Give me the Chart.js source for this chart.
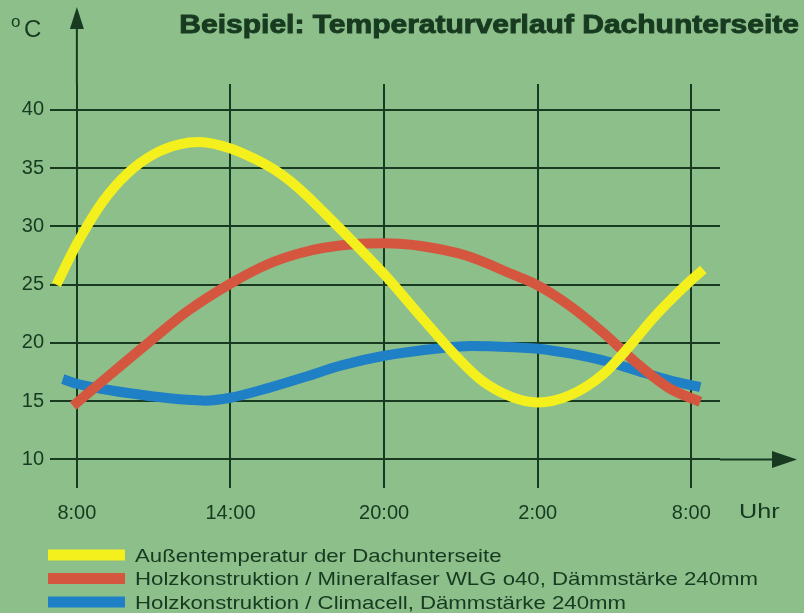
<!DOCTYPE html>
<html lang="de">
<head>
<meta charset="utf-8">
<title>Beispiel: Temperaturverlauf Dachunterseite</title>
<script src="https://cdn.jsdelivr.net/npm/chart.js@4.4.1/dist/chart.umd.min.js"></script>
<style>
  html, body { margin: 0; padding: 0; background: #8cbf8a; }
  canvas { display: block; }
</style>
</head>
<body>
<canvas id="chart" width="804" height="613"></canvas>
<script>
// Zeit in Stunden ab 0:00 des ersten Tages (8 = 8:00, 32 = 8:00 am Folgetag)
const xTicks = [8, 14, 20, 26, 32];
const xTickLabels = ["8:00", "14:00", "20:00", "2:00", "8:00"];
const yTicks = [10, 15, 20, 25, 30, 35, 40];

const seriesLabels = [
  "Außentemperatur der Dachunterseite",
  "Holzkonstruktion / Mineralfaser WLG o40, Dämmstärke 240mm",
  "Holzkonstruktion / Climacell, Dämmstärke 240mm"
];

// Außentemperatur (gelb)
const outsideHours = [7.2, 8, 9, 10, 11, 12, 12.8, 14, 15, 15.7, 16.3, 17, 17.6, 18.6, 20, 21.5, 22.8, 23.8, 25, 26, 27.25, 28.55, 29.6, 30.5, 31.15, 32, 32.47];
const outsideTemp  = [25, 28.5, 32.1, 34.6, 36.2, 37.05, 37.25, 36.7, 35.75, 34.9, 33.95, 32.6, 31.3, 29.1, 25.9, 22.1, 18.9, 16.8, 15.35, 14.9, 15.5, 17.3, 19.75, 22.1, 23.6, 25.4, 26.3];

// Mineralfaser (rot)
const mineralHours = [7.85, 8.5, 9.2, 11, 12.3, 14, 15.5, 16.7, 17.6, 18.9, 20, 21.5, 23.2, 25, 26, 27.25, 28.55, 29.85, 31.15, 32.35];
const mineralTemp  = [14.6, 15.8, 17.1, 20.4, 22.7, 25.1, 26.8, 27.7, 28.15, 28.5, 28.55, 28.3, 27.5, 25.9, 24.95, 23.2, 20.9, 18.3, 16.1, 14.95];

// Climacell (blau)
const climaHours = [7.45, 8, 9, 10, 11, 12.3, 13, 14, 15.5, 17, 18.3, 20, 22.2, 23.4, 25.3, 26, 27.25, 28.55, 29.85, 31.15, 32.35];
const climaTemp  = [16.9, 16.5, 16.05, 15.7, 15.4, 15.12, 15.05, 15.3, 16.15, 17.15, 18.05, 18.9, 19.55, 19.75, 19.6, 19.5, 19.1, 18.5, 17.65, 16.8, 16.2];

const BG = "#8cbf8a";
const INK = "#173a20";
const STRETCH = 1.2; // Schrift im Original ist breit gezogen

function toPoints(xs, ys) {
  return xs.map((x, i) => ({ x: x, y: ys[i] }));
}

// Text horizontal gestreckt zeichnen
function wideText(ctx, text, x, y, align, heavy) {
  const w = ctx.measureText(text).width * STRETCH;
  const left = align === "right" ? x - w : x;
  ctx.save();
  ctx.translate(left, y);
  ctx.scale(STRETCH, 1);
  ctx.textAlign = "left";
  ctx.fillText(text, 0, 0);
  if (heavy) {
    ctx.strokeStyle = ctx.fillStyle;
    ctx.lineWidth = 0.9;
    ctx.strokeText(text, 0, 0);
  }
  ctx.restore();
}

const decorations = {
  id: "decorations",
  beforeDraw(chart) {
    const ctx = chart.ctx;
    ctx.save();
    ctx.fillStyle = BG;
    ctx.fillRect(0, 0, chart.width, chart.height);
    ctx.restore();
  },
  beforeDatasetsDraw(chart) {
    const { ctx, chartArea, scales } = chart;
    const x0 = scales.x.getPixelForValue(xTicks[0]);
    const y0 = scales.y.getPixelForValue(yTicks[0]);
    ctx.save();
    ctx.strokeStyle = INK;
    ctx.fillStyle = INK;
    ctx.lineWidth = 2;
    // y-Achse mit Pfeil
    ctx.beginPath();
    ctx.moveTo(x0, chartArea.top);
    ctx.lineTo(x0, 26);
    ctx.stroke();
    ctx.beginPath();
    ctx.moveTo(x0, 7);
    ctx.lineTo(x0 - 7, 29);
    ctx.lineTo(x0 + 7, 29);
    ctx.closePath();
    ctx.fill();
    // x-Achse mit Pfeil
    ctx.beginPath();
    ctx.moveTo(chartArea.right, y0);
    ctx.lineTo(775, y0);
    ctx.stroke();
    ctx.beginPath();
    ctx.moveTo(797, y0);
    ctx.lineTo(772, y0 - 8.5);
    ctx.lineTo(772, y0 + 8.5);
    ctx.closePath();
    ctx.fill();
    ctx.restore();
  },
  afterDraw(chart) {
    const ctx = chart.ctx;
    ctx.save();
    ctx.fillStyle = INK;
    ctx.textBaseline = "alphabetic";

    // Titel
    ctx.font = "bold 25px 'Liberation Sans', Arial, sans-serif";
    wideText(ctx, "Beispiel: Temperaturverlauf Dachunterseite", 799, 33, "right", true);

    // Einheit oben links
    ctx.font = "17px 'Liberation Sans', Arial, sans-serif";
    ctx.fillText("o", 11, 27);
    ctx.font = "24px 'Liberation Sans', Arial, sans-serif";
    ctx.fillText("C", 24, 37);

    // Einheit x-Achse
    ctx.font = "21px 'Liberation Sans', Arial, sans-serif";
    wideText(ctx, "Uhr", 739, 518, "left");

    // Legende
    ctx.font = "18.5px 'Liberation Sans', Arial, sans-serif";
    chart.data.datasets.forEach((ds, i) => {
      const base = 561.5 + i * 23.5;
      ctx.fillStyle = ds.borderColor;
      ctx.fillRect(48, base - 12, 77, 11);
      ctx.fillStyle = INK;
      wideText(ctx, ds.label, 135, base, "left");
    });
    ctx.restore();
  }
};

new Chart(document.getElementById("chart"), {
  type: "line",
  data: {
    datasets: [
      {
        label: seriesLabels[0],
        data: toPoints(outsideHours, outsideTemp),
        borderColor: "#f4f01e",
        borderWidth: 10,
        pointRadius: 0,
        cubicInterpolationMode: "monotone"
      },
      {
        label: seriesLabels[1],
        data: toPoints(mineralHours, mineralTemp),
        borderColor: "#d5563f",
        borderWidth: 10,
        pointRadius: 0,
        cubicInterpolationMode: "monotone"
      },
      {
        label: seriesLabels[2],
        data: toPoints(climaHours, climaTemp),
        borderColor: "#1f80c6",
        borderWidth: 10,
        pointRadius: 0,
        cubicInterpolationMode: "monotone"
      }
    ]
  },
  options: {
    responsive: false,
    animation: false,
    events: [],
    layout: { padding: { left: 0, right: 84, top: 84, bottom: 0 } },
    plugins: {
      legend: { display: false },
      title: { display: false },
      tooltip: { enabled: false }
    },
    scales: {
      x: {
        type: "linear",
        min: 6.95,
        max: 33.12,
        afterFit: scale => { scale.height = 125; },
        afterBuildTicks: scale => { scale.ticks = xTicks.map(v => ({ value: v })); },
        border: { display: false },
        grid: { color: INK, lineWidth: 2, drawTicks: false },
        ticks: {
          padding: 13,
          color: INK,
          font: { family: "'Liberation Sans', Arial, sans-serif", size: 20 },
          callback: value => xTickLabels[xTicks.indexOf(value)]
        }
      },
      y: {
        min: 7.55,
        max: 42.23,
        afterFit: scale => { scale.width = 50; },
        afterBuildTicks: scale => { scale.ticks = yTicks.map(v => ({ value: v })); },
        border: { display: false },
        grid: { color: INK, lineWidth: 2, drawTicks: false },
        ticks: {
          padding: 6,
          color: INK,
          font: { family: "'Liberation Sans', Arial, sans-serif", size: 20 }
        }
      }
    }
  },
  plugins: [decorations]
});
</script>
</body>
</html>
